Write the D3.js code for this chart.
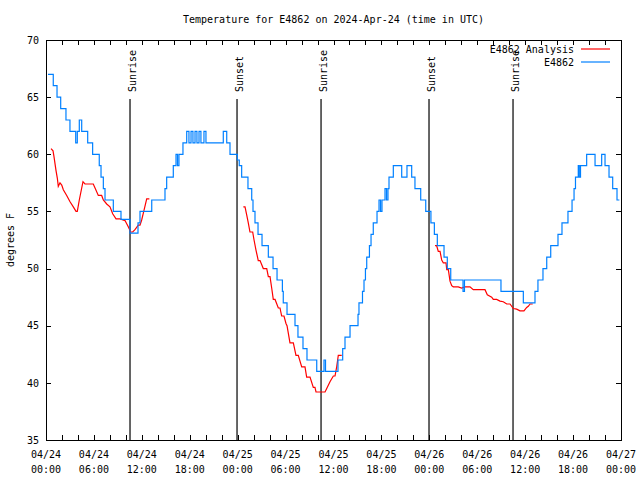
<!DOCTYPE html>
<html>
<head>
<meta charset="utf-8">
<script src="https://cdn.jsdelivr.net/npm/d3@7"></script>
<style>
  html, body { margin: 0; padding: 0; background: #fff; }
  svg { display: block; }
  text { font-family: "DejaVu Sans Mono", "Liberation Mono", monospace; font-size: 10px; fill: #000; }
</style>
</head>
<body>
<svg id="chart" width="640" height="480"></svg>
<script>
// ---- Data (hours since 2024-04-24 00:00 UTC) ----
const titleText = "Temperature for E4862 on 2024-Apr-24 (time in UTC)";
const yLabel = "degrees F";

// E4862 observed temperature (step series)
const obsHours = [0.25,0.91,1.38,1.84,2.50,3.00,3.72,3.92,4.17,4.47,5.22,5.84,6.67,6.89,7.18,7.39,8.43,9.39,10.52,11.52,11.77,13.24,14.90,15.11,15.94,16.28,16.47,16.65,17.15,17.62,17.90,18.16,18.40,18.66,18.90,19.16,19.40,19.78,20.03,22.20,22.63,23.04,23.96,24.20,24.50,25.29,25.76,25.92,26.17,26.55,27.05,27.84,28.43,28.93,29.60,29.71,30.18,31.18,31.55,32.18,32.68,33.90,34.81,35.00,36.56,37.15,37.44,38.07,39.07,39.19,39.63,39.82,40.00,40.16,40.50,40.70,40.98,41.45,41.70,41.89,42.07,42.45,42.64,42.82,42.95,43.49,44.54,45.20,45.79,46.20,46.92,47.55,48.20,48.63,49.00,49.84,50.25,50.68,52.22,52.40,56.97,59.77,61.23,61.60,62.23,62.70,63.20,64.11,64.61,65.36,65.87,66.12,66.30,66.65,66.77,66.93,67.70,68.75,69.58,70.00,70.50,70.96,71.50,71.80];
const obsTemps = [67,66,65,64,63,62,61,62,63,62,61,60,59,58,57,56,55,54.3,53.1,54,55,56,57,58,59,60,59,60,61,62,61,62,61,62,61,62,61,62,61,62,61,60,59.5,59,58,57,56,55,54,53,52,51,50,49,48,47,46,45,44,43,42,41,42,41,42,43,44,45,46,47,48,49,50,51,52,53,54,55,56,55,56,57,56,57,58,59,58,59,58,57,56,55,54,53,52,51,50,49,48,49,48,47,48,49,50,51,52,53,54,55,56,57,58,59,58,59,60,59,60,59,58,57,56,56];

// E4862 Analysis (three separate runs; null = gap)
const anaHours = [0.63,0.88,1.00,1.25,1.42,1.54,1.75,1.97,2.17,2.59,3.01,3.42,3.76,3.92,4.17,4.63,4.88,5.92,6.14,6.55,6.97,7.18,7.60,8.01,8.35,8.77,9.27,9.89,10.27,10.61,10.86,11.14,11.56,11.77,11.98,12.27,12.61,12.94,
  null,
  24.71,24.92,25.13,25.33,25.54,25.88,26.05,26.30,26.58,26.80,27.21,27.64,27.84,28.05,28.26,28.46,28.68,29.09,29.30,29.51,29.80,30.05,30.18,30.55,30.97,31.30,31.59,32.02,32.43,32.64,33.06,33.47,33.68,33.81,34.94,35.15,35.56,35.98,36.19,36.40,36.60,37.03,
  null,
  48.71,48.92,49.12,49.34,49.55,49.67,49.75,50.09,50.18,50.38,50.59,50.80,51.00,51.62,52.04,52.45,53.09,53.50,54.97,55.26,55.81,56.01,56.43,56.85,57.26,57.69,58.10,58.52,58.94,59.35,59.85,60.19,60.39,60.61,60.94];
const anaTemps = [60.5,60.3,59.8,58.6,57.9,57.2,57.5,57.3,56.9,56.4,55.85,55.4,55.0,55.0,56.0,57.6,57.4,57.4,57.05,56.4,56.4,56.0,55.65,55.4,54.8,54.35,54.35,54.2,53.7,53.2,53.2,53.4,53.8,53.8,54.25,55.1,56.1,56.1,
  null,
  55.4,55.4,54.7,54.0,53.2,53.2,52.5,51.6,50.7,50.7,50.0,50.0,49.3,49.3,48.3,47.3,47.3,46.55,46.55,45.85,45.85,45.2,45.0,43.5,43.5,42.4,42.4,41.4,41.4,40.5,40.5,39.6,39.6,39.2,39.2,39.5,40.1,40.6,40.6,41.4,42.4,42.4,
  null,
  52.0,52.0,51.5,51.5,50.75,50.6,50.5,50.5,49.9,49.9,48.9,48.5,48.4,48.4,48.3,48.4,48.4,48.15,48.15,47.7,47.5,47.3,47.3,47.15,47.1,46.9,46.9,46.5,46.45,46.3,46.3,46.6,46.7,46.9,46.9];

// Sun events
const eventHours = [10.52, 23.92, 34.44, 47.96, 58.48];
const eventLabels = ["Sunrise", "Sunset", "Sunrise", "Sunset", "Sunrise"];

// Axis ticks
const xMajorHours = [0,6,12,18,24,30,36,42,48,54,60,66,72];
const xTickDates = ["04/24","04/24","04/24","04/24","04/25","04/25","04/25","04/25","04/26","04/26","04/26","04/26","04/27"];
const xTickTimes = ["00:00","06:00","12:00","18:00","00:00","06:00","12:00","18:00","00:00","06:00","12:00","18:00","00:00"];
const yTicks = [35,40,45,50,55,60,65,70];

const legendNames = ["E4862 Analysis", "E4862"];
const legendColors = ["#ff0000", "#0080ff"];

// ---- Drawing ----
const L = 46, R = 621, T = 40, B = 440;
const svg = d3.select("#chart");
const x = d3.scaleLinear().domain([0, 72]).range([L, R]);
const y = d3.scaleLinear().domain([35, 70]).range([B, T]);

// Title
svg.append("text").attr("x", (L + R) / 2).attr("y", 23)
  .attr("text-anchor", "middle").text(titleText);

// Y label
svg.append("text").attr("transform", `translate(14,${(T + B) / 2}) rotate(-90)`)
  .attr("text-anchor", "middle").text(yLabel);

// Axes (inward ticks)
const minorTicks = d3.range(0, 73, 2);
const axB = svg.append("g").attr("transform", `translate(0,${B})`)
  .call(d3.axisBottom(x).tickValues(minorTicks).tickSize(-5).tickFormat(""));
const axT = svg.append("g").attr("transform", `translate(0,${T})`)
  .call(d3.axisTop(x).tickValues(minorTicks).tickSize(-5).tickFormat(""));
const axL = svg.append("g").attr("transform", `translate(${L},0)`)
  .call(d3.axisLeft(y).tickValues(yTicks).tickSize(-5).tickPadding(7).tickFormat(d3.format("d")));
const axR = svg.append("g").attr("transform", `translate(${R},0)`)
  .call(d3.axisRight(y).tickValues(yTicks).tickSize(-5).tickFormat(""));
[axB, axT, axL, axR].forEach(g => {
  g.select(".domain").remove();
  g.selectAll("line").attr("stroke", "#000").attr("shape-rendering", "crispEdges");
  g.selectAll("text").attr("font-family", null).attr("font-size", null).attr("fill", "#000");
});
axL.attr("font-family", null).attr("font-size", null);

// X tick labels (two lines)
const xl = svg.append("g");
xMajorHours.forEach((h, i) => {
  const t = xl.append("text").attr("x", x(h)).attr("y", 458).attr("text-anchor", "middle");
  t.append("tspan").attr("x", x(h)).text(xTickDates[i]);
  t.append("tspan").attr("x", x(h)).attr("dy", 15).text(xTickTimes[i]);
});

// Frame
svg.append("rect").attr("x", L).attr("y", T).attr("width", R - L).attr("height", B - T)
  .attr("fill", "none").attr("stroke", "#000").attr("shape-rendering", "crispEdges");

// Sun event lines and labels
eventHours.forEach((h, i) => {
  svg.append("line").attr("x1", x(h)).attr("x2", x(h)).attr("y1", 99).attr("y2", B)
    .attr("stroke", "#000").attr("stroke-width", 1.2);
  svg.append("text").attr("transform", `translate(${x(h) + 5.5},92) rotate(-90)`)
    .attr("text-anchor", "start").text(eventLabels[i]);
});

// Series
const obsData = obsHours.map((h, i) => ({ h, v: obsTemps[i] }));
const anaData = anaHours.map((h, i) => ({ h, v: anaTemps[i] }));

svg.append("path").datum(anaData)
  .attr("fill", "none").attr("stroke", legendColors[0]).attr("stroke-width", 1.2)
  .attr("d", d3.line().defined(d => d.h !== null && d.v !== null)
    .x(d => x(d.h)).y(d => y(d.v)));

svg.append("path").datum(obsData)
  .attr("fill", "none").attr("stroke", legendColors[1]).attr("stroke-width", 1.2)
  .attr("d", d3.line().curve(d3.curveStepAfter).x(d => x(d.h)).y(d => y(d.v)));

// Legend
const lg = svg.append("g");
legendNames.forEach((name, i) => {
  const ly = 49 + i * 13;
  lg.append("text").attr("x", 574).attr("y", ly + 4).attr("text-anchor", "end").text(name);
  lg.append("line").attr("x1", 581).attr("x2", 610).attr("y1", ly).attr("y2", ly)
    .attr("stroke", legendColors[i]).attr("stroke-width", 1.2);
});
</script>
</body>
</html>
